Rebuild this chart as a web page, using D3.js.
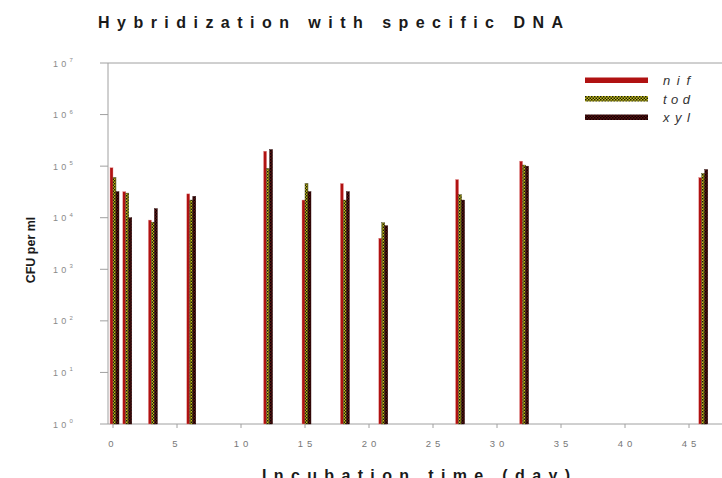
<!DOCTYPE html>
<html>
<head>
<meta charset="utf-8">
<script src="https://cdn.jsdelivr.net/npm/d3@7"></script>
<style>
  html, body { margin: 0; padding: 0; background: #fff; }
  svg { display: block; }
  text { font-family: "Liberation Sans", Arial, sans-serif; }
</style>
</head>
<body>
<svg id="chart" width="722" height="478"></svg>
<script>
// Sampling days and colony counts (CFU per ml) for each probe
const days = [0, 1, 3, 6, 12, 15, 18, 21, 27, 32, 46];
const nif = [9.3e4, 3.2e4, 9.0e3, 2.9e4, 1.95e5, 2.2e4, 4.6e4, 4.0e3, 5.5e4, 1.25e5, 6.0e4];
const tod = [6.0e4, 3.0e4, 8.2e3, 2.2e4, 9.0e4, 4.6e4, 2.2e4, 8.0e3, 2.8e4, 1.05e5, 7.2e4];
const xyl = [3.2e4, 1.0e4, 1.5e4, 2.6e4, 2.1e5, 3.2e4, 3.2e4, 7.0e3, 2.2e4, 1.0e5, 8.6e4];
const seriesNames = ["nif", "tod", "xyl"];
const xTicks = [0, 5, 10, 15, 20, 25, 30, 35, 40, 45];
const yExponents = [0, 1, 2, 3, 4, 5, 6, 7];

const series = [nif, tod, xyl];
const svg = d3.select("#chart");

// Plot frame
const plotLeft = 108, plotTop = 63, plotBottom = 424, plotRight = 760;
const x = d3.scaleLinear().domain([0, 45]).range([113, 689]);
const y = d3.scaleLog().domain([1, 1e7]).range([plotBottom, plotTop]);

// Spread a text's letters so that it spans the given width
function spreadTo(sel, width) {
  sel.attr("letter-spacing", 0);
  const n = sel.text().length;
  const w = sel.node().getComputedTextLength();
  sel.attr("letter-spacing", (width - w) / Math.max(1, n - 1));
  return sel;
}

// Fill patterns for the three probes
const defs = svg.append("defs");
function checker(id, bg, fg, size) {
  const p = defs.append("pattern").attr("id", id)
    .attr("patternUnits", "userSpaceOnUse")
    .attr("width", size * 2).attr("height", size * 2);
  p.append("rect").attr("width", size * 2).attr("height", size * 2).attr("fill", bg);
  p.append("rect").attr("width", size).attr("height", size).attr("fill", fg);
  p.append("rect").attr("x", size).attr("y", size).attr("width", size).attr("height", size).attr("fill", fg);
}
checker("pat-tod", "#c9c21a", "#1a1a0a", 1.5);
checker("pat-xyl", "#5a1010", "#0d0000", 1.5);
const fills = ["#b01212", "url(#pat-tod)", "url(#pat-xyl)"];
const strokes = ["#e59090", "#3a3a10", "#2a0505"];

// Title
spreadTo(svg.append("text")
  .attr("x", 98).attr("y", 28)
  .attr("font-size", 16).attr("font-weight", "bold")
  .attr("fill", "#1a1a1a")
  .text("Hybridization with specific DNA"), 465);

// Frame lines
svg.append("line").attr("x1", plotLeft).attr("x2", plotRight).attr("y1", plotTop).attr("y2", plotTop)
  .attr("stroke", "#a0a0a0").attr("stroke-width", 1);
svg.append("line").attr("x1", plotLeft).attr("x2", plotLeft).attr("y1", plotTop).attr("y2", plotBottom)
  .attr("stroke", "#a0a0a0").attr("stroke-width", 1);
svg.append("line").attr("x1", plotLeft).attr("x2", plotRight).attr("y1", plotBottom).attr("y2", plotBottom)
  .attr("stroke", "#a0a0a0").attr("stroke-width", 1);

// Y axis ticks and labels (powers of ten)
const yAxis = svg.append("g");
yExponents.forEach(k => {
  const yy = y(Math.pow(10, k));
  yAxis.append("line").attr("x1", plotLeft - 8).attr("x2", plotLeft).attr("y1", yy).attr("y2", yy)
    .attr("stroke", "#a0a0a0");
  const t = yAxis.append("text").attr("x", 53).attr("y", yy + 3.5)
    .attr("font-size", 9).attr("fill", "#8a8a8a").attr("letter-spacing", 3.2);
  t.append("tspan").text("10");
  t.append("tspan").attr("dy", -4.5).attr("font-size", 6).text(k);
});

// X axis ticks and labels
const xAxis = svg.append("g");
xTicks.forEach(d => {
  xAxis.append("line").attr("x1", x(d)).attr("x2", x(d)).attr("y1", plotBottom).attr("y2", plotBottom + 4)
    .attr("stroke", "#a0a0a0");
  xAxis.append("text").attr("x", x(d) + (d >= 10 ? 2 : 0)).attr("y", 447)
    .attr("text-anchor", "middle").attr("font-size", 9.5)
    .attr("letter-spacing", 4).attr("fill", "#777")
    .text(d);
});

// Axis titles
svg.append("text")
  .attr("transform", "translate(35,250) rotate(-90)")
  .attr("text-anchor", "middle").attr("font-size", 12.5).attr("font-weight", "bold")
  .attr("fill", "#1a1a1a")
  .text("CFU per ml");
spreadTo(svg.append("text")
  .attr("x", 262).attr("y", 481)
  .attr("font-size", 16).attr("font-weight", "bold")
  .attr("fill", "#1a1a1a")
  .text("Incubation time (day)"), 308);

// Bars: three adjacent narrow bars per sampling day
const bw = 3;
series.forEach((vals, si) => {
  svg.append("g").selectAll("rect")
    .data(days.map((d, i) => ({ d, v: vals[i] })))
    .join("rect")
    .attr("x", p => x(p.d) - 3 + si * bw)
    .attr("y", p => y(p.v))
    .attr("width", bw)
    .attr("height", p => plotBottom - y(p.v))
    .attr("fill", fills[si])
    .attr("stroke", strokes[si])
    .attr("stroke-width", 0.4);
});

// Legend
const legend = svg.append("g");
seriesNames.forEach((name, i) => {
  const ly = 80 + i * 18.5;
  legend.append("rect").attr("x", 585).attr("y", ly - 2.5).attr("width", 63).attr("height", 5.5)
    .attr("fill", fills[i]);
  spreadTo(legend.append("text").attr("x", 663).attr("y", ly + 5)
    .attr("font-size", 13).attr("font-style", "italic")
    .attr("fill", "#333")
    .text(name), 27);
});
</script>
</body>
</html>
